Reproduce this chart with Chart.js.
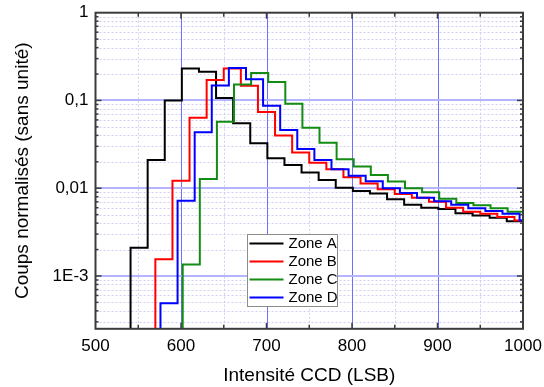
<!DOCTYPE html>
<html>
<head>
<meta charset="utf-8">
<script src="https://cdn.jsdelivr.net/npm/chart.js@4.4.1/dist/chart.umd.min.js"></script>
<style>
  html, body { margin: 0; padding: 0; background: #fff; }
  #wrap { width: 544px; height: 387px; }
</style>
</head>
<body>
<div id="wrap"><canvas id="histo"></canvas></div>
<script>
// histogram bins are 20 LSB wide; each array starts with the (empty) bin just left of the rise
const binWidth = 20;
const zoneLabels = ['Zone A', 'Zone B', 'Zone C', 'Zone D'];
const zoneStarts = [521, 550, 582, 556];
const zoneA = [1e-4, 0.0021, 0.0209, 0.100, 0.232, 0.212, 0.107, 0.055, 0.0325, 0.0220, 0.0184,
  0.0151, 0.0124, 0.0101, 0.0093, 0.0087, 0.0075, 0.0065, 0.0060, 0.0058, 0.0052, 0.0049, 0.0046, 0.0042];
const zoneB = [1e-4, 0.00155, 0.0122, 0.0635, 0.171, 0.232, 0.147, 0.074, 0.040, 0.0256, 0.0195,
  0.0164, 0.0133, 0.0113, 0.0097, 0.0086, 0.0078, 0.0070, 0.0060, 0.0054, 0.0051, 0.0047, 0.0043];
const zoneC = [1e-4, 0.00135, 0.0127, 0.0572, 0.152, 0.206, 0.162, 0.092, 0.049, 0.033, 0.0214,
  0.0177, 0.0141, 0.0119, 0.0100, 0.0090, 0.0076, 0.0068, 0.0064, 0.0059, 0.0054];
const zoneD = [1e-4, 0.00049, 0.0072, 0.0433, 0.148, 0.234, 0.174, 0.087, 0.046, 0.028, 0.0209,
  0.0165, 0.0139, 0.0120, 0.0100, 0.0088, 0.0078, 0.0071, 0.0065, 0.0059, 0.0055, 0.0051, 0.0043];
const zoneColors = ['#000000', '#ff0000', '#138c13', '#0000ff'];

const xTicks = [500, 600, 700, 800, 900, 1000];
const yTickValues = [0.001, 0.01, 0.1, 1];
const yTickLabels = ['1E-3', '0,01', '0,1', '1'];

const FONT = "'Liberation Sans', Arial, sans-serif";

function steps(start, values) {
  const pts = values.map((v, i) => ({ x: start + i * binWidth, y: v }));
  pts.push({ x: start + values.length * binWidth, y: values[values.length - 1] });
  return pts;
}

// grid, frame and inner ticks drawn from the scales
const frameGrid = {
  id: 'frameGrid',
  beforeDatasetsDraw(chart) {
    const { ctx, chartArea: a, scales: { x, y } } = chart;
    const hline = (py) => { ctx.beginPath(); ctx.moveTo(a.left, py); ctx.lineTo(a.right, py); ctx.stroke(); };
    const vline = (px) => { ctx.beginPath(); ctx.moveTo(px, a.top); ctx.lineTo(px, a.bottom); ctx.stroke(); };
    ctx.save();
    ctx.beginPath();
    ctx.rect(a.left, a.top, a.right - a.left, a.bottom - a.top);
    ctx.clip();
    ctx.lineWidth = 1;
    ctx.strokeStyle = '#cfcff3';
    ctx.setLineDash([2, 2]);
    for (let d = -4; d < 0; d++) {
      for (let m = 2; m <= 9; m++) {
        const v = m * Math.pow(10, d);
        if (v < y.min || v > y.max) continue;
        hline(Math.round(y.getPixelForValue(v)) + 0.5);
      }
    }
    for (let v = 550; v < 1000; v += 100) vline(Math.round(x.getPixelForValue(v)) + 0.5);
    ctx.setLineDash([]);
    ctx.strokeStyle = '#6e6eff';
    for (let v = 600; v < 1000; v += 100) vline(Math.round(x.getPixelForValue(v)) + 0.5);
    ctx.strokeStyle = '#b4b4ff';
    ctx.lineWidth = 2;
    yTickValues.forEach(v => { if (v < 1) hline(Math.round(y.getPixelForValue(v))); });
    ctx.restore();
  },
  afterDatasetsDraw(chart) {
    const { ctx, chartArea: a, scales: { x, y } } = chart;
    ctx.save();
    ctx.strokeStyle = '#3c3c3c';
    ctx.lineWidth = 1.5;
    const seg = (x1, y1, x2, y2) => { ctx.beginPath(); ctx.moveTo(x1, y1); ctx.lineTo(x2, y2); ctx.stroke(); };
    for (let v = 550; v < 1000; v += 50) {
      const px = x.getPixelForValue(v);
      const len = v % 100 === 0 ? 6 : 4;
      seg(px, a.bottom, px, a.bottom - len);
      seg(px, a.top, px, a.top + len);
    }
    for (let d = -4; d < 0; d++) {
      for (let m = 1; m <= 9; m++) {
        const v = m * Math.pow(10, d);
        if (v < y.min || v >= y.max) continue;
        const py = y.getPixelForValue(v);
        const len = m === 1 ? 6 : 3;
        seg(a.left, py, a.left + len, py);
        seg(a.right, py, a.right - len, py);
      }
    }
    ctx.lineWidth = 2;
    ctx.strokeRect(a.left, a.top, a.right - a.left, a.bottom - a.top);
    ctx.restore();
  }
};

// legend box inside the plot
const boxLegend = {
  id: 'boxLegend',
  afterDraw(chart) {
    const { ctx } = chart;
    const bx = 247.5, by = 234.5, bw = 90, bh = 72, row = 18;
    ctx.save();
    ctx.fillStyle = '#ffffff';
    ctx.fillRect(bx, by, bw, bh);
    ctx.strokeStyle = '#8c8c8c';
    ctx.lineWidth = 1;
    ctx.strokeRect(bx, by, bw, bh);
    ctx.font = '15px ' + FONT;
    ctx.textBaseline = 'middle';
    ctx.fillStyle = '#000';
    chart.data.datasets.forEach((ds, i) => {
      const ry = by + 9 + i * row;
      ctx.strokeStyle = ds.borderColor;
      ctx.lineWidth = 2;
      ctx.beginPath();
      ctx.moveTo(bx + 2, ry);
      ctx.lineTo(bx + 36, ry);
      ctx.stroke();
      ctx.fillText(ds.label, bx + 41, ry + 0.5);
    });
    ctx.restore();
  }
};

const zones = [zoneA, zoneB, zoneC, zoneD];

new Chart(document.getElementById('histo'), {
  type: 'line',
  data: {
    datasets: zones.map((vals, i) => ({
      label: zoneLabels[i],
      data: steps(zoneStarts[i], vals),
      borderColor: zoneColors[i],
      backgroundColor: zoneColors[i],
      borderWidth: 2,
      pointRadius: 0,
      stepped: 'before',
      fill: false,
      order: 4 - i
    }))
  },
  options: {
    responsive: true,
    maintainAspectRatio: false,
    animation: false,
    events: [],
    layout: { padding: { top: 12.7, right: 21, left: 0, bottom: 0 } },
    plugins: { legend: { display: false }, tooltip: { enabled: false } },
    scales: {
      x: {
        type: 'linear',
        min: 500,
        max: 1000,
        afterBuildTicks: (scale) => { scale.ticks = xTicks.map(v => ({ value: v })); },
        afterFit: (scale) => {
          scale.height = 58.2;
          scale.paddingLeft = 0;
          scale.paddingRight = 0;
        },
        grid: { display: false, drawTicks: false },
        border: { display: false },
        ticks: {
          padding: 7,
          maxRotation: 0,
          autoSkip: false,
          color: '#000',
          font: { family: FONT, size: 17 },
          callback: (v) => String(v)
        },
        title: {
          display: true,
          text: 'Intensité CCD (LSB)',
          color: '#000',
          font: { family: FONT, size: 19 },
          padding: { top: 0, bottom: 0 }
        }
      },
      y: {
        type: 'logarithmic',
        min: 2.5e-4,
        max: 1,
        afterBuildTicks: (scale) => { scale.ticks = yTickValues.map(v => ({ value: v })); },
        afterFit: (scale) => {
          scale.width = 95.5;
          scale.paddingTop = 0;
          scale.paddingBottom = 0;
        },
        grid: { display: false, drawTicks: false },
        border: { display: false },
        ticks: {
          padding: 7,
          autoSkip: false,
          color: '#000',
          font: { family: FONT, size: 17 },
          callback: (v) => {
            const k = yTickValues.findIndex(t => Math.abs(Math.log10(t) - Math.log10(v)) < 1e-6);
            return k >= 0 ? yTickLabels[k] : '';
          }
        },
        title: {
          display: true,
          text: 'Coups normalisés (sans unité)',
          color: '#000',
          font: { family: FONT, size: 19 },
          padding: { top: 11, bottom: 0 }
        }
      }
    }
  },
  plugins: [frameGrid, boxLegend]
});
</script>
</body>
</html>
